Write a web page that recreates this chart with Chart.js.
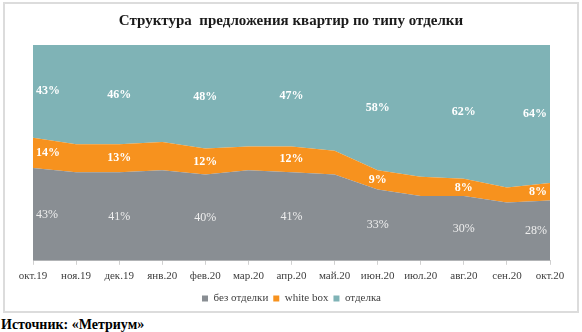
<!DOCTYPE html>
<html>
<head>
<meta charset="utf-8">
<script src="https://cdn.jsdelivr.net/npm/chart.js@4/dist/chart.umd.min.js"></script>
<style>
  html, body { margin: 0; padding: 0; background: #fff; }
  #wrap { position: relative; width: 582px; height: 332px; overflow: hidden; }
  #frame { position: absolute; left: 3px; top: 2px; width: 572px; height: 307px; border: 2px solid #dcdcdc; }
  #chart { position: absolute; left: 0; top: 0; }
  #title { position: absolute; left: 0; width: 582px; top: 12px; text-align: center;
           font: bold 15px "Liberation Serif", serif; color: #1a1a1a; white-space: pre; }
  #source { position: absolute; left: 1px; top: 317px; font: bold 14px "Liberation Serif", serif; color: #000; }
</style>
</head>
<body>
<div id="wrap">
  <div id="frame"></div>
  <canvas id="chart" width="582" height="314"></canvas>
  <div id="title">Структура  предложения квартир по типу отделки</div>
  <div id="source">Источник: «Метриум»</div>
</div>
<script>
// ---------- данные ----------
const months   = ['окт.19','ноя.19','дек.19','янв.20','фев.20','мар.20','апр.20','май.20','июн.20','июл.20','авг.20','сен.20','окт.20'];
const bare     = [43, 41, 41, 42, 40, 42, 41, 40, 33, 30, 30, 27, 28];   // без отделки
const whiteBox = [14, 13, 13, 13, 12, 11, 12, 11,  9,  9,  8,  7,  8];   // white box
const finished = [43, 46, 46, 45, 48, 47, 47, 49, 58, 61, 62, 66, 64];   // отделка
const labelIdx = [0, 2, 4, 6, 8, 10, 12];  // где подписи

const SERIF = '"Liberation Serif", "Times New Roman", serif';

// подписи в середине каждой полосы
const midLabels = {
  id: 'midLabels',
  afterDatasetsDraw(chart) {
    const { ctx, chartArea, scales } = chart;
    const x = scales.x, y = scales.y;
    ctx.save();
    ctx.textAlign = 'center';
    ctx.textBaseline = 'middle';
    labelIdx.forEach(i => {
      let base = 0;
      chart.data.datasets.forEach((ds, k) => {
        const v = ds.data[i];
        const py = y.getPixelForValue(base + v / 2);
        base += v;
        const txt = v + '%';
        ctx.font = (k === 0 ? '' : 'bold ') + '12px ' + SERIF;
        const w = ctx.measureText(txt).width;
        let px = x.getPixelForValue(i);
        px = Math.max(chartArea.left + w / 2 + 3, Math.min(chartArea.right - w / 2 - 3, px));
        ctx.fillStyle = k === 0 ? '#eeeeee' : '#ffffff';
        ctx.fillText(txt, px, py);
      });
    });
    ctx.restore();
  }
};

function area(label, data, color, fill) {
  return { label, data, backgroundColor: color, borderColor: color, borderWidth: 0,
           fill, pointRadius: 0, pointHoverRadius: 0, tension: 0 };
}

new Chart(document.getElementById('chart'), {
  type: 'line',
  data: {
    labels: months,
    datasets: [
      area('без отделки', bare, '#898e93', 'origin'),
      area('white box', whiteBox, '#f7921e', '-1'),
      area('отделка', finished, '#7fb3b6', '-1')
    ]
  },
  options: {
    responsive: false,
    animation: false,
    layout: { padding: { left: 33, right: 32, top: 45, bottom: 0 } },
    scales: {
      x: {
        offset: false,
        grid: { display: true, drawOnChartArea: false, drawTicks: true, tickLength: 4, color: '#d0d0d0' },
        border: { display: true, color: '#d0d0d0' },
        ticks: { color: '#404040', font: { family: SERIF, size: 11 }, padding: 5, maxRotation: 0, autoSkip: false }
      },
      y: { display: false, stacked: true, min: 0, max: 100 }
    },
    plugins: {
      legend: {
        position: 'bottom',
        labels: { boxWidth: 6, boxHeight: 6, padding: 5, color: '#404040', font: { family: SERIF, size: 11 } }
      },
      tooltip: { enabled: false }
    }
  },
  plugins: [midLabels]
});
</script>
</body>
</html>
